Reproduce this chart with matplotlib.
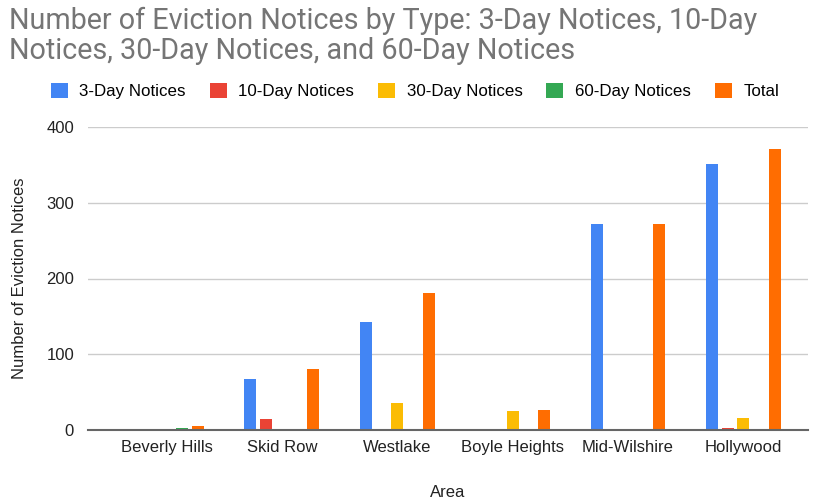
import matplotlib.pyplot as plt
import numpy as np

plt.rcParams['font.family'] = ['Liberation Sans', 'DejaVu Sans']

areas = ['Beverly Hills', 'Skid Row', 'Westlake', 'Boyle Heights', 'Mid-Wilshire', 'Hollywood']
series_names = ['3-Day Notices', '10-Day Notices', '30-Day Notices', '60-Day Notices', 'Total']
three_day = [1, 67, 142, 0, 272, 351]
ten_day = [0, 14, 1, 0, 1, 3]
thirty_day = [0, 0, 36, 25, 0, 16]
sixty_day = [3, 0, 0, 1, 0, 1]
total = [5, 80, 181, 27, 272, 371]
colors = ['#4285F4', '#EA4335', '#FBBC04', '#34A853', '#FF6D01']

fig = plt.figure(figsize=(8.14, 5.01), dpi=100)
ax = fig.add_axes([88 / 814, 1 - 430 / 501, 720 / 814, 303 / 501])

x = np.arange(len(areas))
slot = 0.136
width = 0.104
all_series = [three_day, ten_day, thirty_day, sixty_day, total]
for i, (vals, name, c) in enumerate(zip(all_series, series_names, colors)):
    ax.bar(x + (i - 2) * slot, vals, width, color=c, label=name, zorder=3)

ax.set_ylim(0, 400)
ax.set_xlim(-0.68, 5.56)
ax.set_yticks([0, 100, 200, 300, 400])
ax.set_xticks(x)
ax.set_xticklabels(areas)
ax.tick_params(length=0, labelsize=12, colors='#222222', pad=7)
ax.tick_params(axis='y', pad=10)
ax.grid(axis='y', color='#cccccc', linewidth=1, zorder=0)
for s in ['top', 'right', 'left']:
    ax.spines[s].set_visible(False)
ax.spines['bottom'].set_color('#666666')
ax.spines['bottom'].set_linewidth(1.5)
ax.spines['bottom'].set_zorder(4)

ax.set_ylabel('Number of Eviction Notices', fontsize=12, color='#222222', labelpad=14)
ax.set_xlabel('Area', fontsize=12, color='#222222', labelpad=22)

fig.text(9 / 814, 1 - 7 / 501, 'Number of Eviction Notices by Type: 3-Day Notices, 10-Day\nNotices, 30-Day Notices, and 60-Day Notices',
         fontsize=20.7, family=['Roboto', 'DejaVu Sans'], color='#757575', ha='left', va='top', linespacing=1.1)

fig.legend(loc='center', bbox_to_anchor=(415 / 814, 1 - 91 / 501), ncol=5, frameon=False,
           fontsize=12.2, handlelength=1.0, handleheight=0.95, columnspacing=1.4, handletextpad=0.7)

fig.savefig('out.png', dpi=100)
